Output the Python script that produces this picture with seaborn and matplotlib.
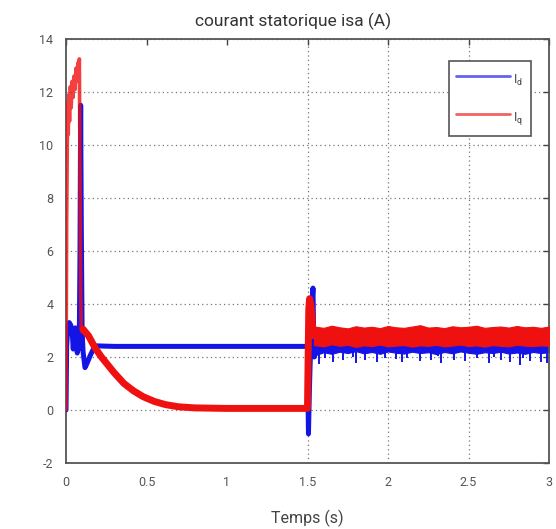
import matplotlib
matplotlib.use("Agg")
import matplotlib.pyplot as plt
from matplotlib.lines import Line2D
import pandas as pd
import seaborn as sns

# ---- d-axis current: start-up transient and load step -------------------
t_id = [0.0, 0.004, 0.010, 0.020, 0.030, 0.040, 0.045, 0.050, 0.058, 0.065,
        0.070, 0.076, 0.082, 0.087, 0.091, 0.095, 0.100, 0.106, 0.118, 0.130,
        0.150, 0.170, 0.190, 0.300, 1.500, 1.503, 1.506, 1.512, 1.520, 1.528,
        1.534, 1.538, 1.542, 1.548, 1.555]
id_vals = [0.0, 2.4, 3.0, 3.3, 3.2, 2.8, 2.3, 2.9, 3.1, 2.6,
           2.15, 2.5, 2.3, 6.0, 11.5, 7.0, 3.0, 2.2, 1.6, 1.75,
           2.05, 2.3, 2.42, 2.4, 2.4, 0.5, -0.9, 0.8, 2.5, 4.0,
           4.6, 3.0, 2.0, 2.5, 2.3]

# ---- q-axis current: start-up burst (thin trace) -------------------------
t_iq_start = [0.0, 0.004, 0.008, 0.011, 0.014, 0.018, 0.022, 0.027, 0.032,
              0.038, 0.044, 0.050, 0.056, 0.062, 0.068, 0.074, 0.079, 0.083,
              0.087, 0.091, 0.095, 0.100, 0.106]
iq_start = [0.0, 7.0, 10.0, 11.6, 10.4, 11.9, 10.9, 12.2, 11.4, 12.4,
            11.8, 12.6, 12.1, 12.9, 12.4, 13.1, 12.7, 13.25, 9.0, 4.5,
            3.0, 2.95, 3.05]

# ---- q-axis current: decay and load step ---------------------------------
t_iq = [0.106, 0.140, 0.180, 0.220, 0.260, 0.300, 0.360, 0.420, 0.480, 0.550,
        0.620, 0.700, 0.800, 1.000, 1.500, 1.504, 1.508, 1.513, 1.520, 1.527,
        1.533, 1.540]
iq_vals = [3.05, 2.8, 2.35, 2.0, 1.7, 1.4, 1.0, 0.72, 0.5, 0.32,
           0.2, 0.12, 0.08, 0.06, 0.06, 2.0, 3.8, 4.2, 4.0, 3.6,
           3.0, 2.8]

# ---- ripple envelopes after the load step --------------------------------
t_ripple = [1.54, 1.60, 1.65, 1.70, 1.75, 1.80, 1.85, 1.90, 1.95, 2.00,
            2.05, 2.10, 2.15, 2.20, 2.25, 2.30, 2.35, 2.40, 2.45, 2.50,
            2.55, 2.60, 2.65, 2.70, 2.75, 2.80, 2.85, 2.90, 2.95, 3.00]
iq_upper = [3.15, 3.10, 3.18, 3.12, 3.08, 3.16, 3.11, 3.14, 3.09, 3.17,
            3.12, 3.10, 3.15, 3.20, 3.11, 3.13, 3.09, 3.16, 3.12, 3.14,
            3.18, 3.10, 3.13, 3.15, 3.11, 3.17, 3.12, 3.14, 3.10, 3.15]
iq_lower = [2.45, 2.40, 2.48, 2.42, 2.46, 2.38, 2.44, 2.41, 2.47, 2.40,
            2.43, 2.45, 2.39, 2.44, 2.42, 2.46, 2.40, 2.43, 2.47, 2.41,
            2.44, 2.39, 2.45, 2.42, 2.40, 2.46, 2.43, 2.41, 2.44, 2.42]
id_upper = [2.60, 2.62, 2.58, 2.61, 2.59, 2.63, 2.60, 2.58, 2.62, 2.60,
            2.61, 2.59, 2.62, 2.60, 2.58, 2.61, 2.63, 2.59, 2.60, 2.62,
            2.58, 2.61, 2.60, 2.62, 2.59, 2.60, 2.61, 2.58, 2.62, 2.60]
id_lower = [2.05, 2.18, 2.12, 2.20, 2.15, 2.22, 2.14, 2.19, 2.12, 2.21,
            2.16, 2.13, 2.20, 2.15, 2.18, 2.11, 2.19, 2.14, 2.21, 2.16,
            2.12, 2.18, 2.15, 2.20, 2.13, 2.17, 2.12, 2.19, 2.15, 2.18]
# short downward spikes of the d-axis ripple
t_id_dips = [1.57, 1.61, 1.66, 1.72, 1.78, 1.80, 1.86, 1.93, 1.98, 2.05,
             2.09, 2.12, 2.20, 2.27, 2.31, 2.33, 2.41, 2.48, 2.55, 2.63,
             2.66, 2.70, 2.76, 2.82, 2.84, 2.88, 2.95, 2.99]
id_dips = [1.75, 1.95, 1.80, 1.90, 2.00, 1.78, 1.88, 1.82, 1.96, 1.92,
           1.80, 1.98, 1.85, 1.88, 2.02, 1.79, 1.90, 1.84, 1.97, 1.76,
           2.00, 1.89, 1.82, 1.70, 1.95, 1.86, 1.80, 1.78]

x_ticks = [0, 0.5, 1, 1.5, 2, 2.5, 3]
x_ticklabels = ["0", "0.5", "1", "1.5", "2", "2.5", "3"]
y_ticks = [-2, 0, 2, 4, 6, 8, 10, 12, 14]

BLUE = "#1414e6"
RED = "#ef1010"

sns.set_style("white")
plt.rcParams["font.family"] = ["Roboto", "DejaVu Sans"]
plt.rcParams["axes.unicode_minus"] = False

fig = plt.figure(figsize=(5.56, 5.29), dpi=100)
ax = fig.add_axes([66 / 556, 1 - 463 / 529, (549 - 66) / 556, (463 - 39) / 529])

df_id = pd.DataFrame({"t": t_id, "i": id_vals})
df_iq_start = pd.DataFrame({"t": t_iq_start, "i": iq_start})
df_iq = pd.DataFrame({"t": t_iq, "i": iq_vals})

# d-axis current
ax.fill_between(t_ripple, id_lower, id_upper, color=BLUE, lw=0.8, zorder=2)
ax.vlines(t_id_dips, id_dips, 2.2, color=BLUE, lw=1.4, zorder=2)
sns.lineplot(data=df_id, x="t", y="i", ax=ax, color=BLUE, lw=3.6,
             sort=False, estimator=None, zorder=3)

# q-axis current: thin start-up burst over the d-axis spike, thick decay
sns.lineplot(data=df_iq_start, x="t", y="i", ax=ax, color=RED, lw=2.6,
             sort=False, estimator=None, zorder=4, alpha=0.8)
sns.lineplot(data=df_iq, x="t", y="i", ax=ax, color=RED, lw=5.0,
             sort=False, estimator=None, zorder=4)
ax.fill_between(t_ripple, iq_lower, iq_upper, color=RED, lw=0.8, zorder=4)

ax.set_xlim(0, 3)
ax.set_ylim(-2, 14)
ax.set_xticks(x_ticks)
ax.set_xticklabels(x_ticklabels)
ax.set_yticks(y_ticks)
ax.tick_params(direction="in", length=4, width=1, top=True, right=True,
               labelsize=9, labelcolor="#555555", color="#444444", pad=9)

ax.grid(True, axis="y", ls=(0, (1, 2.5)), color="#777777", lw=0.9)
ax.grid(True, axis="x", ls=(0, (1, 2.5)), color="#777777", lw=0.9)
for v, gl in zip(x_ticks, ax.get_xgridlines()):
    gl.set_visible(v in (1.5, 2, 2.5))

for sp in ax.spines.values():
    sp.set_color("#555555")
    sp.set_linewidth(1.3)

ax.set_xlabel("Temps (s)", fontsize=11.5, color="#444444", labelpad=15)
ax.set_ylabel("")
ax.set_title("courant statorique isa (A)", fontsize=12.5, color="#333333",
             pad=9, x=0.47)

handles = [Line2D([], [], color="#6464ee", lw=2),
           Line2D([], [], color="#ee6464", lw=2)]
leg = ax.legend(handles, [r"I$_\mathregular{d}$", r"I$_\mathregular{q}$"],
                loc="upper right", bbox_to_anchor=(0.962, 0.948),
                borderaxespad=0, fontsize=9, handlelength=4.25,
                handleheight=2.4, labelspacing=1.2, borderpad=0.6,
                handletextpad=0.3, frameon=True, fancybox=False,
                framealpha=1)
leg.get_frame().set_edgecolor("#555555")
leg.get_frame().set_linewidth(1.2)
for txt in leg.get_texts():
    txt.set_color("#444444")

fig.savefig("out.png", dpi=100)
